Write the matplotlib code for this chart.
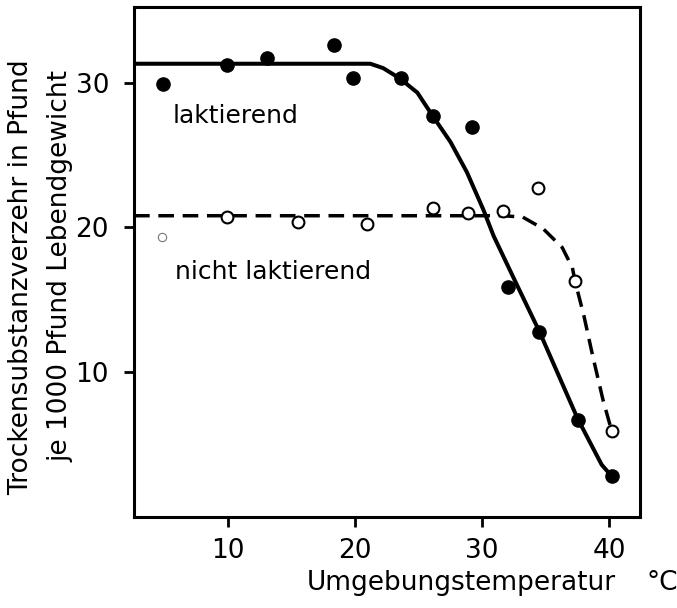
import numpy as np
import matplotlib
matplotlib.use('Agg')
import matplotlib.pyplot as plt

plt.rcParams['font.family'] = ['DejaVu Sans']

# measured points (temperature in °C, intake in Pfund per 1000 Pfund)
lakt_x = [4.9, 9.9, 13.1, 18.3, 19.8, 23.6, 26.1, 29.2, 32.0, 34.5, 37.5, 40.2]
lakt_y = [29.9, 31.2, 31.7, 32.6, 30.3, 30.3, 27.7, 26.9, 15.9, 12.8, 6.7, 2.8]

nicht_x = [9.9, 15.5, 20.9, 26.1, 28.9, 31.6, 34.4, 37.3, 40.2]
nicht_y = [20.7, 20.4, 20.2, 21.3, 21.0, 21.1, 22.7, 16.3, 5.9]
broken_x = [4.8]   # half-printed circle at the left
broken_y = [19.3]

# hand drawn curves
lakt_curve_x = [2.6, 21.2, 22.2, 23.5, 24.9, 26.1, 27.5, 28.8, 30.1, 30.9, 32.8, 34.5, 37.5, 39.4, 40.2]
lakt_curve_y = [31.3, 31.3, 31.0, 30.3, 29.3, 27.7, 25.9, 23.8, 21.2, 19.4, 15.9, 12.8, 6.8, 3.6, 2.8]

nicht_curve_x = [2.6, 31.7, 33.2, 34.8, 36.3, 37.1, 37.3, 38.0, 38.7, 39.5, 40.2]
nicht_curve_y = [20.8, 20.8, 20.7, 19.9, 18.6, 17.2, 16.3, 13.9, 11.1, 8.1, 5.9]

fig = plt.figure(figsize=(6.77, 6.08), dpi=100)
ax = fig.add_axes([0.198, 0.150, 0.747, 0.838])

ax.plot(lakt_curve_x, lakt_curve_y, color='black', lw=2.9, solid_capstyle='butt', zorder=2)
ax.plot(nicht_curve_x, nicht_curve_y, color='black', lw=2.5, dashes=(4.5, 2.5), zorder=2)

ax.plot(lakt_x, lakt_y, 'o', color='black', ms=9.5, zorder=3)
ax.plot(nicht_x, nicht_y, 'o', mfc='white', mec='black', mew=1.5, ms=8.5, zorder=3)
ax.plot(broken_x, broken_y, 'o', mfc='white', mec='#777777', mew=0.8, ms=6, zorder=3)

ax.text(5.67, 27.24, 'laktierend', fontsize=18, va='baseline')
ax.text(5.83, 16.41, 'nicht laktierend', fontsize=18, va='baseline')

ax.set_xlim(2.6, 42.4)
ax.set_ylim(0, 35.2)
ax.set_xticks([10, 20, 30, 40])
ax.set_yticks([10, 20, 30])
ax.tick_params(direction='out', length=7, width=2, labelsize=19)
ax.tick_params(axis='x', pad=8)
ax.tick_params(axis='y', pad=11)
for s in ax.spines.values():
    s.set_linewidth(2.2)

fig.text(0.453, 0.030, 'Umgebungstemperatur', fontsize=19, va='baseline')
fig.text(0.955, 0.030, '°C', fontsize=19, va='baseline')
fig.text(0.031, 0.544, 'Trockensubstanzverzehr in Pfund', fontsize=19,
         rotation=90, ha='center', va='center')
fig.text(0.089, 0.562, 'je 1000 Pfund Lebendgewicht', fontsize=19,
         rotation=90, ha='center', va='center')

fig.savefig('out.png', dpi=100)
